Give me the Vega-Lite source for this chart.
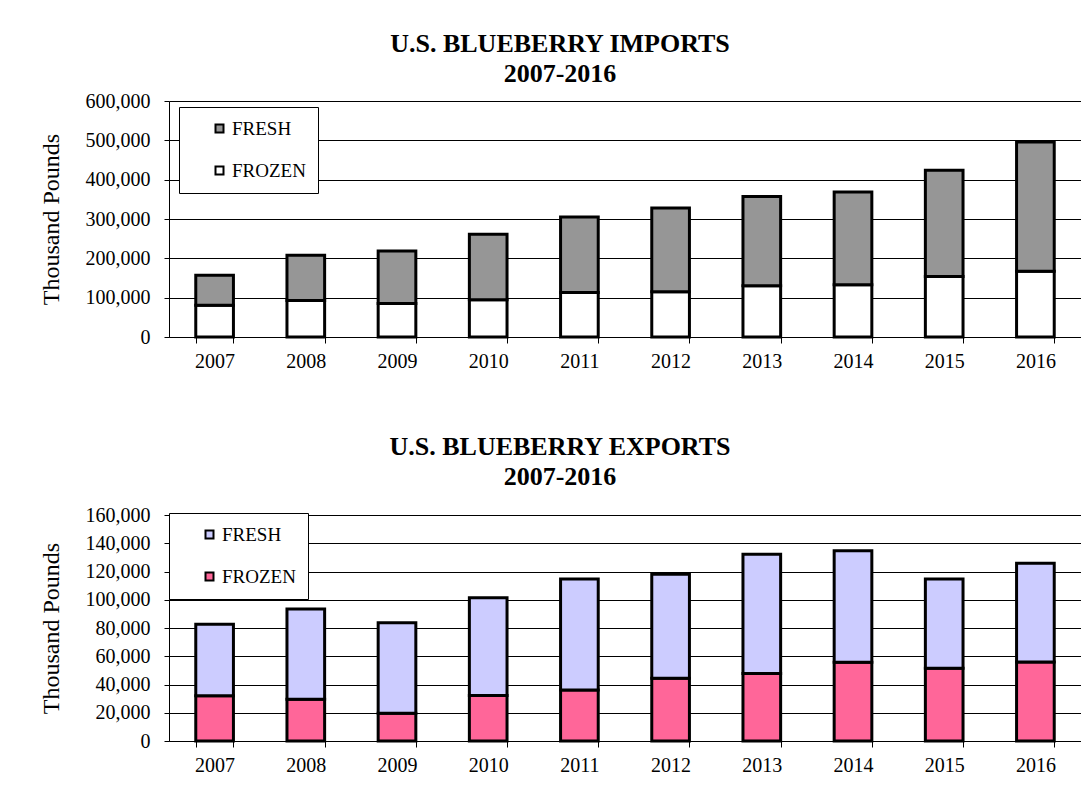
{
  "$schema": "https://vega.github.io/schema/vega-lite/v6.json",
  "padding": {"left": 39, "top": 31, "right": 0, "bottom": 0},
  "background": "white",
  "spacing": 63,
  "config": {
    "font": "Liberation Serif",
    "view": {"stroke": null},
    "axis": {
      "labelFont": "Liberation Serif",
      "labelFontSize": 20,
      "labelColor": "black",
      "titleFont": "Liberation Serif",
      "titleFontSize": 24,
      "titleFontWeight": "normal",
      "titleColor": "black",
      "domainColor": "black",
      "domainWidth": 1,
      "tickColor": "black",
      "gridColor": "black",
      "gridWidth": 1,
      "gridOpacity": 1
    },
    "legend": {
      "orient": "none",
      "title": null,
      "fillColor": "white",
      "strokeColor": "black",
      "strokeWidth": 1,
      "padding": 12,
      "symbolType": "square",
      "symbolSize": 64,
      "symbolStrokeColor": "black",
      "symbolStrokeWidth": 2,
      "symbolOpacity": 1,
      "labelFont": "Liberation Serif",
      "labelFontSize": 19,
      "labelColor": "black",
      "labelOffset": 3,
      "rowPadding": 22,
      "symbolOffset": 19
    },
    "title": {
      "font": "Liberation Serif",
      "fontSize": 26,
      "fontWeight": "bold",
      "color": "black",
      "anchor": "middle",
      "frame": "bounds",
      "lineHeight": 30
    }
  },
  "resolve": {"scale": {"color": "independent", "y": "independent"}, "legend": {"color": "independent"}},
  "vconcat": [
    {
      "width": 912,
      "height": 236,
      "title": {"text": ["U.S. BLUEBERRY IMPORTS", "2007-2016"], "offset": 4},
      "data": {"values": [
        {"year": "2007", "type": "FROZEN", "value": 80600},
        {"year": "2007", "type": "FRESH", "value": 76500},
        {"year": "2008", "type": "FROZEN", "value": 93000},
        {"year": "2008", "type": "FRESH", "value": 114700},
        {"year": "2009", "type": "FROZEN", "value": 85000},
        {"year": "2009", "type": "FRESH", "value": 133700},
        {"year": "2010", "type": "FROZEN", "value": 95000},
        {"year": "2010", "type": "FRESH", "value": 166000},
        {"year": "2011", "type": "FROZEN", "value": 113000},
        {"year": "2011", "type": "FRESH", "value": 192000},
        {"year": "2012", "type": "FROZEN", "value": 115000},
        {"year": "2012", "type": "FRESH", "value": 213000},
        {"year": "2013", "type": "FROZEN", "value": 130000},
        {"year": "2013", "type": "FRESH", "value": 227500},
        {"year": "2014", "type": "FROZEN", "value": 133000},
        {"year": "2014", "type": "FRESH", "value": 235700},
        {"year": "2015", "type": "FROZEN", "value": 153500},
        {"year": "2015", "type": "FRESH", "value": 270300},
        {"year": "2016", "type": "FROZEN", "value": 167000},
        {"year": "2016", "type": "FRESH", "value": 328800}
      ]},
      "mark": {"type": "bar", "stroke": "black", "strokeWidth": 3},
      "encoding": {
        "x": {
          "field": "year", "type": "ordinal",
          "scale": {"paddingInner": 0.587, "paddingOuter": 0.2935},
          "axis": {"title": null, "labelAngle": 0, "tickBand": "extent", "tickSize": 6, "labelPadding": 8, "grid": false}
        },
        "y": {
          "field": "value", "type": "quantitative", "stack": "zero",
          "scale": {"domain": [0, 600000], "nice": false},
          "axis": {"title": "Thousand Pounds", "values": [0, 100000, 200000, 300000, 400000, 500000, 600000], "format": ",d", "tickSize": 5, "labelPadding": 14, "titlePadding": 22, "grid": true}
        },
        "color": {
          "field": "type", "type": "nominal",
          "scale": {"domain": ["FRESH", "FROZEN"], "range": ["#969696", "#ffffff"]},
          "legend": {"legendX": 10, "legendY": 6, "labelExpr": "datum.label + '\u00a0\u00a0\u00a0\u00a0\u00a0\u00a0'"}
        },
        "order": {"field": "type", "sort": "descending"}
      }
    },
    {
      "width": 912,
      "height": 226,
      "title": {"text": ["U.S. BLUEBERRY EXPORTS", "2007-2016"], "offset": 15},
      "data": {"values": [
        {"year": "2007", "type": "FROZEN", "value": 32000},
        {"year": "2007", "type": "FRESH", "value": 50600},
        {"year": "2008", "type": "FROZEN", "value": 29500},
        {"year": "2008", "type": "FRESH", "value": 64000},
        {"year": "2009", "type": "FROZEN", "value": 19600},
        {"year": "2009", "type": "FRESH", "value": 64200},
        {"year": "2010", "type": "FROZEN", "value": 32300},
        {"year": "2010", "type": "FRESH", "value": 69200},
        {"year": "2011", "type": "FROZEN", "value": 36100},
        {"year": "2011", "type": "FRESH", "value": 78600},
        {"year": "2012", "type": "FROZEN", "value": 44400},
        {"year": "2012", "type": "FRESH", "value": 73600},
        {"year": "2013", "type": "FROZEN", "value": 47700},
        {"year": "2013", "type": "FRESH", "value": 84500},
        {"year": "2014", "type": "FROZEN", "value": 55700},
        {"year": "2014", "type": "FRESH", "value": 79000},
        {"year": "2015", "type": "FROZEN", "value": 51500},
        {"year": "2015", "type": "FRESH", "value": 63200},
        {"year": "2016", "type": "FROZEN", "value": 55900},
        {"year": "2016", "type": "FRESH", "value": 69900}
      ]},
      "mark": {"type": "bar", "stroke": "black", "strokeWidth": 3},
      "encoding": {
        "x": {
          "field": "year", "type": "ordinal",
          "scale": {"paddingInner": 0.587, "paddingOuter": 0.2935},
          "axis": {"title": null, "labelAngle": 0, "tickBand": "extent", "tickSize": 6, "labelPadding": 8, "grid": false}
        },
        "y": {
          "field": "value", "type": "quantitative", "stack": "zero",
          "scale": {"domain": [0, 160000], "nice": false},
          "axis": {"title": "Thousand Pounds", "values": [0, 20000, 40000, 60000, 80000, 100000, 120000, 140000, 160000], "format": ",d", "tickSize": 5, "labelPadding": 14, "titlePadding": 22, "grid": true}
        },
        "color": {
          "field": "type", "type": "nominal",
          "scale": {"domain": ["FRESH", "FROZEN"], "range": ["#ccccff", "#ff6699"]},
          "legend": {"legendX": 0, "legendY": -2, "labelExpr": "datum.label + '\u00a0\u00a0\u00a0\u00a0\u00a0'"}
        },
        "order": {"field": "type", "sort": "descending"}
      }
    }
  ]
}
